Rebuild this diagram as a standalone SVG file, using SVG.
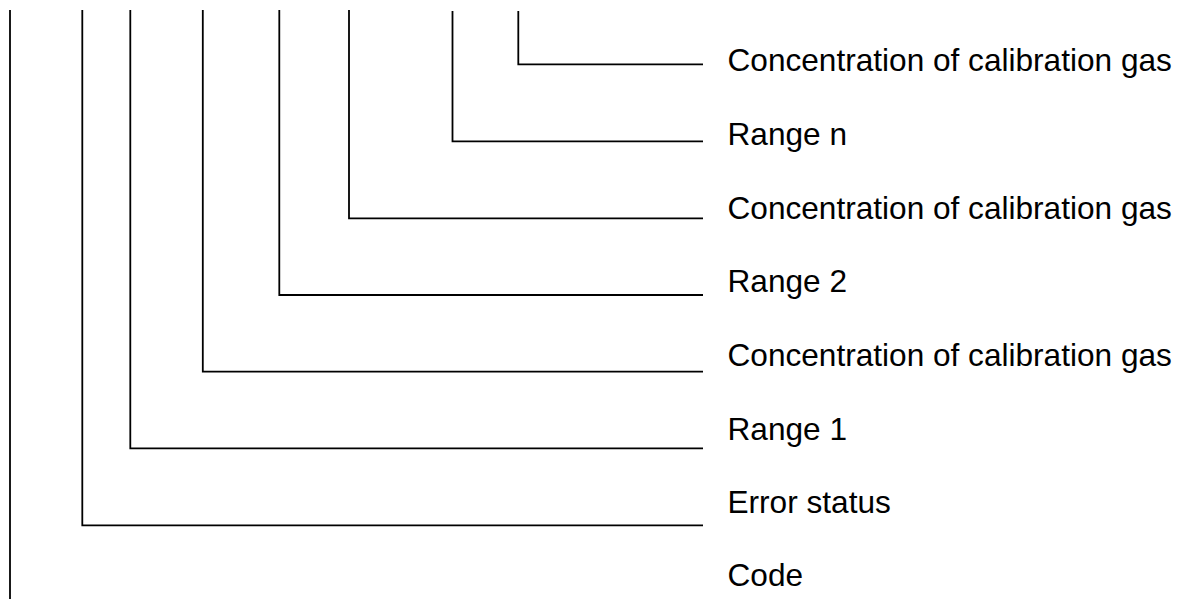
<svg xmlns="http://www.w3.org/2000/svg" width="1181" height="599" viewBox="0 0 1181 599">
<style>
.c{fill:none;stroke:#000;stroke-width:1.8}
.t{font-family:"Liberation Sans",Arial,sans-serif;font-size:31.6px;fill:#000}
</style>
<rect width="1181" height="599" fill="#fff"/>
<g id="connectors">
<path class="c" d="M10 10V599"/>
<path class="c" d="M82.3 10V525.3H703"/>
<path class="c" d="M130.3 10V448.3H703"/>
<path class="c" d="M202.8 10V371.7H703"/>
<path class="c" d="M279.3 10V295H703"/>
<path class="c" d="M349 10V218.3H703"/>
<path class="c" d="M452.5 11V141.3H703"/>
<path class="c" d="M518.3 11V64.3H703"/>
</g>
<g id="n1"><text class="t" x="727.5" y="71">Concentration of calibration gas</text></g>
<g id="n2"><text class="t" x="727.5" y="145">Range n</text></g>
<g id="n3"><text class="t" x="727.5" y="218.5">Concentration of calibration gas</text></g>
<g id="n4"><text class="t" x="727.5" y="292">Range 2</text></g>
<g id="n5"><text class="t" x="727.5" y="366">Concentration of calibration gas</text></g>
<g id="n6"><text class="t" x="727.5" y="439.5">Range 1</text></g>
<g id="n7"><text class="t" x="727.5" y="513">Error status</text></g>
<g id="n8"><text class="t" x="727.5" y="586">Code</text></g>
</svg>
